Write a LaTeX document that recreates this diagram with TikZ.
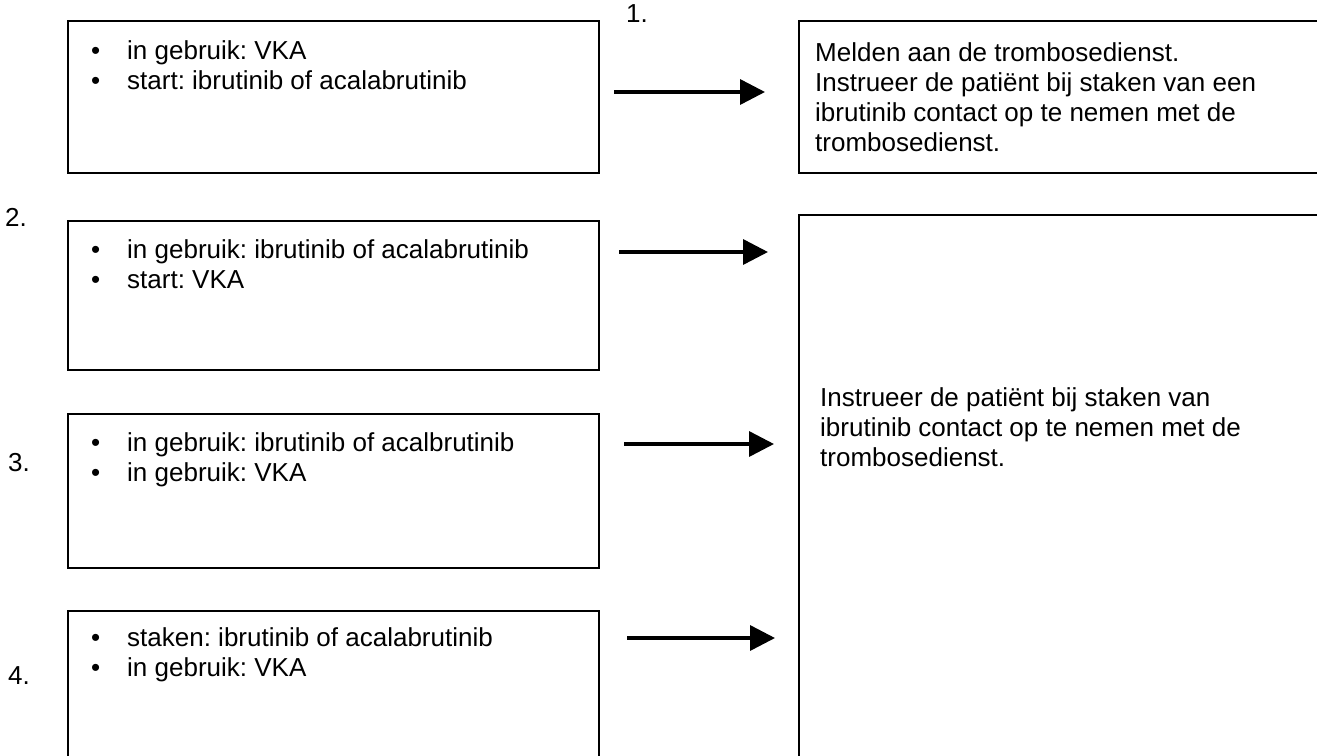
\documentclass[tikz,border=0pt]{standalone}
\usepackage{fontspec}
\setmainfont{Liberation Sans}
\usetikzlibrary{arrows.meta}
\frenchspacing
\begin{document}
\begin{tikzpicture}[x=1pt,y=-1pt,
  box/.style={draw=black,line width=1.6pt,rectangle,anchor=north west,inner sep=0pt},
  txt/.style={anchor=base west,inner sep=0pt,font=\fontsize{26}{30}\selectfont},
  conn/.style={line width=3.5pt,-{Triangle[length=25pt,width=25pt]}}]
\useasboundingbox (0,0) rectangle (1317,755);
\clip (0,0) rectangle (1317,755);
% left boxes
\node[box,minimum width=531pt,minimum height=152pt] (b1) at (67,20) {};
\node[box,minimum width=531pt,minimum height=149pt] (b2) at (67,220) {};
\node[box,minimum width=531pt,minimum height=154pt] (b3) at (67,413) {};
\node[box,minimum width=531pt,minimum height=170pt] (b4) at (67,610) {};
% right boxes
\node[box,minimum width=540pt,minimum height=152pt] (r1) at (798,20) {};
\node[box,minimum width=540pt,minimum height=560pt] (r2) at (798,214) {};
% numbers
\node[txt] (n1) at (626,22) {1.};
\node[txt] (n2) at (5,226) {2.};
\node[txt] (n3) at (8,471) {3.};
\node[txt] (n4) at (8,684) {4.};
% list texts
\node[txt] (t1) at (91,59) {\begin{tabular}[t]{@{}p{36pt}@{}l@{}}•&in gebruik: VKA\\•&start: ibrutinib of acalabrutinib\end{tabular}};
\node[txt] (t2) at (91,258) {\begin{tabular}[t]{@{}p{36pt}@{}l@{}}•&in gebruik: ibrutinib of acalabrutinib\\•&start: VKA\end{tabular}};
\node[txt] (t3) at (91,451) {\begin{tabular}[t]{@{}p{36pt}@{}l@{}}•&in gebruik: ibrutinib of acalbrutinib\\•&in gebruik: VKA\end{tabular}};
\node[txt] (t4) at (91,646) {\begin{tabular}[t]{@{}p{36pt}@{}l@{}}•&staken: ibrutinib of acalabrutinib\\•&in gebruik: VKA\end{tabular}};
% right texts
\node[txt] (tr1) at (815,61) {\begin{tabular}[t]{@{}l@{}}Melden aan de trombosedienst.\\Instrueer de patiënt bij staken van een\\ibrutinib contact op te nemen met de\\trombosedienst.\end{tabular}};
\node[txt] (tr2) at (820,406) {\begin{tabular}[t]{@{}l@{}}Instrueer de patiënt bij staken van\\ibrutinib contact op te nemen met de\\trombosedienst.\end{tabular}};
% arrows
\coordinate (a1s) at (614,92); \coordinate (a1e) at (765,92);
\coordinate (a2s) at (619,252); \coordinate (a2e) at (768,252);
\coordinate (a3s) at (624,444); \coordinate (a3e) at (774,444);
\coordinate (a4s) at (627,638); \coordinate (a4e) at (775,638);
\draw[conn] (a1s) -- (a1e);
\draw[conn] (a2s) -- (a2e);
\draw[conn] (a3s) -- (a3e);
\draw[conn] (a4s) -- (a4e);
\end{tikzpicture}
\end{document}
